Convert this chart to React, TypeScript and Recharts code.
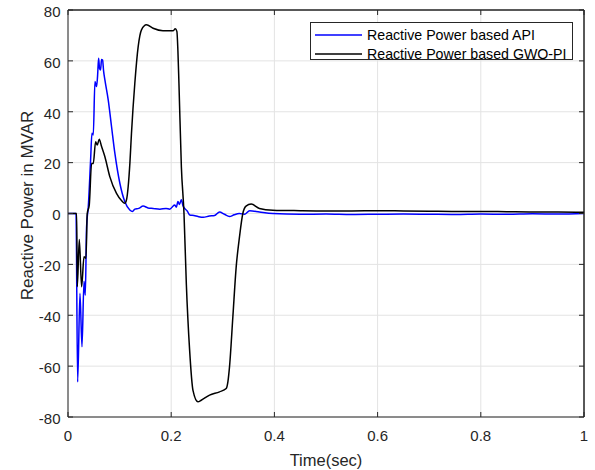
import React from 'react';
import { LineChart, Line, XAxis, YAxis, CartesianGrid, Legend, Label, ReferenceLine } from 'recharts';

const FONT = '"Liberation Sans", Arial, Helvetica, sans-serif';
const AX = '#262626';

const xTicks = [0, 0.2, 0.4, 0.6, 0.8, 1];
const yTicks = [-80, -60, -40, -20, 0, 20, 40, 60, 80];

const apiName = 'Reactive Power based API';
const gwoName = 'Reactive Power based GWO-PI';

const apiTime = [0, 0.0155, 0.0187, 0.0232, 0.0271, 0.031, 0.0335, 0.036, 0.0393, 0.0438, 0.0464, 0.049, 0.0522, 0.0554, 0.0573, 0.0593, 0.0612, 0.0631, 0.065, 0.067, 0.069, 0.0715, 0.078, 0.0844, 0.0908, 0.1005, 0.11, 0.1198, 0.125, 0.1295, 0.137, 0.1456, 0.155, 0.165, 0.178, 0.19, 0.197, 0.2067, 0.21, 0.213, 0.216, 0.2196, 0.223, 0.226, 0.231, 0.236, 0.244, 0.252, 0.262, 0.274, 0.284, 0.2937, 0.303, 0.313, 0.322, 0.332, 0.342, 0.352, 0.371, 0.397, 0.45, 0.5, 0.55, 0.6, 0.65, 0.7, 0.75, 0.8, 0.85, 0.9, 0.95, 1.0];
const apiValue = [0, 0, -66.2, -31.4, -52.4, -26.6, -32.1, -5.2, 2.6, 21, 31.5, 30.9, 51.9, 49.9, 54, 61, 57, 56.4, 60.5, 60.3, 56, 52.5, 44.6, 34.1, 23.7, 11.9, 4.7, 1.4, 0.8, 1.7, 2.0, 2.9, 2.2, 2.0, 1.7, 2.0, 1.7, 3.3, 2.5, 4.7, 3.5, 5.4, 3.0, 2.0, 1.0, -0.6, -0.8, -1.2, -1.5, -1.0, -0.8, 0.6, -0.3, -1.2, -0.5, 0, -0.3, 1.1, 0.6, 0, -0.3, -0.2, -0.4, -0.3, -0.2, -0.3, -0.4, -0.2, -0.3, -0.1, -0.2, 0];

const gwoTime = [0, 0.0168, 0.018, 0.0219, 0.0264, 0.031, 0.0348, 0.0373, 0.0412, 0.0457, 0.049, 0.0535, 0.0567, 0.0605, 0.0651, 0.0715, 0.081, 0.094, 0.104, 0.11, 0.1135, 0.1166, 0.12, 0.123, 0.1295, 0.136, 0.1424, 0.152, 0.1649, 0.184, 0.2035, 0.2079, 0.211, 0.213, 0.215, 0.2197, 0.2248, 0.2293, 0.2357, 0.2422, 0.2518, 0.2582, 0.2744, 0.2937, 0.3066, 0.31, 0.313, 0.3195, 0.326, 0.3324, 0.3388, 0.345, 0.355, 0.371, 0.397, 0.45, 0.5, 0.55, 0.6, 0.65, 0.7, 0.75, 0.8, 0.85, 0.9, 0.95, 1.0];
const gwoValue = [0, 0, -28.8, -10.2, -28.8, -17, -17.6, 0, 3.3, 19.7, 19.7, 28.2, 26.9, 29.2, 26.3, 22.3, 14.5, 7.9, 5, 4, 5.5, 10.5, 20, 31.5, 51.2, 65.6, 72.2, 74.2, 72.8, 71.8, 71.8, 72.6, 71.6, 64, 51.2, 18.4, 0, -27.5, -53.7, -69.5, -74, -73.4, -71.4, -70.1, -68.8, -66, -60.3, -40.6, -20.9, -9.1, 0, 2.9, 3.7, 2, 1.3, 1.1, 1.0, 1.0, 1.1, 1.0, 0.9, 0.8, 0.8, 0.7, 0.6, 0.6, 0.5];

const apiData = apiTime.map((t, i) => ({ t, q: apiValue[i] }));
const gwoData = gwoTime.map((t, i) => ({ t, q: gwoValue[i] }));

const fmt = (v: number) => String(v);

const BottomTick = (p: any) => (
  <g>
    <line x1={p.x} y1={p.y} x2={p.x} y2={p.y - 5} stroke={AX} strokeWidth={1} />
    <text x={p.x} y={p.y + 23.5} textAnchor="middle" fontSize={15} fontFamily={FONT} fill={AX}>{fmt(p.payload.value)}</text>
  </g>
);
const TopTick = (p: any) => (
  <line x1={p.x} y1={p.y} x2={p.x} y2={p.y + 5} stroke={AX} strokeWidth={1} />
);
const LeftTick = (p: any) => (
  <g>
    <line x1={p.x} y1={p.y} x2={p.x + 5} y2={p.y} stroke={AX} strokeWidth={1} />
    <text x={p.x - 7.5} y={p.y + 6.8} textAnchor="end" fontSize={15} fontFamily={FONT} fill={AX}>{fmt(p.payload.value)}</text>
  </g>
);
const RightTick = (p: any) => (
  <line x1={p.x} y1={p.y} x2={p.x - 5} y2={p.y} stroke={AX} strokeWidth={1} />
);

const LegendBox = (props: any) => {
  const items = props.payload || [];
  return (
    <div style={{ width: 263, height: 38, boxSizing: 'border-box', border: `1px solid ${AX}`, background: '#fff', fontFamily: FONT, fontSize: 14.2, color: '#000', paddingTop: 3 }}>
      {items.map((it: any) => (
        <div key={it.value} style={{ display: 'flex', alignItems: 'center', height: 18.5, lineHeight: '18.5px' }}>
          <svg width={52} height={18} style={{ display: 'block' }}>
            <line x1={4} x2={51} y1={9} y2={9} stroke={it.color} strokeWidth={1.5} />
          </svg>
          <span style={{ marginLeft: 4, whiteSpace: 'nowrap' }}>{it.value}</span>
        </div>
      ))}
    </div>
  );
};

const YLabel = (props: any) => {
  const vb = props.viewBox || { x: 0, y: 10, width: 68, height: 407 };
  const cy = vb.y + vb.height / 2 - 8;
  const x = 33;
  return (
    <text x={x} y={cy} transform={`rotate(-90, ${x}, ${cy})`} textAnchor="middle" fontSize={17} fontFamily={FONT} fill={AX}>Reactive Power in MVAR</text>
  );
};

const XLabel = (props: any) => {
  const vb = props.viewBox || { x: 68, y: 417, width: 517, height: 53 };
  const cx = vb.x + vb.width / 2;
  return (
    <text x={cx} y={466} textAnchor="middle" fontSize={16.5} fontFamily={FONT} fill={AX}>Time(sec)</text>
  );
};

export default function App() {
  return (
    <div style={{ position: 'fixed', left: 0, top: 0, width: 595, height: 470, background: '#fff' }}>
      <LineChart width={595} height={470} margin={{ top: 9, right: 10, left: 0, bottom: 0 }}>
        <CartesianGrid xAxisId="b" yAxisId="l" stroke="#e3e3e3" strokeWidth={1} horizontal vertical />
        <XAxis xAxisId="b" dataKey="t" type="number" domain={[0, 1]} ticks={xTicks} orientation="bottom" height={53}
          tickSize={0} tickMargin={0} tick={<BottomTick />} axisLine={{ stroke: AX }} tickLine={false} allowDataOverflow>
          <Label content={<XLabel />} />
        </XAxis>
        <XAxis xAxisId="top" dataKey="t" type="number" domain={[0, 1]} ticks={xTicks} orientation="top" height={1}
          tickSize={0} tickMargin={0} tick={<TopTick />} axisLine={{ stroke: AX }} tickLine={false} allowDataOverflow />
        <YAxis yAxisId="l" type="number" domain={[-80, 80]} ticks={yTicks} orientation="left" width={68}
          tickSize={0} tickMargin={0} tick={<LeftTick />} axisLine={{ stroke: AX }} tickLine={false} allowDataOverflow>
          <Label content={<YLabel />} />
        </YAxis>
        <YAxis yAxisId="r" type="number" domain={[-80, 80]} ticks={yTicks} orientation="right" width={1}
          tickSize={0} tickMargin={0} tick={<RightTick />} axisLine={{ stroke: AX }} tickLine={false} allowDataOverflow />
        <ReferenceLine xAxisId="b" yAxisId="l" y={80} stroke={AX} strokeWidth={1} />
        <ReferenceLine xAxisId="b" yAxisId="l" x={1} stroke={AX} strokeWidth={1} />
        <Legend layout="vertical" align="center" verticalAlign="middle" content={<LegendBox />}
          wrapperStyle={{ left: 310, top: 22, width: 263, height: 38 }} />
        <Line xAxisId="b" yAxisId="l" data={apiData} dataKey="q" name={apiName} type="monotone" stroke="#0000ff" strokeWidth={1.5} dot={false} activeDot={false} isAnimationActive={false} />
        <Line xAxisId="b" yAxisId="l" data={gwoData} dataKey="q" name={gwoName} type="monotone" stroke="#000000" strokeWidth={1.5} dot={false} activeDot={false} isAnimationActive={false} />
      </LineChart>
    </div>
  );
}
